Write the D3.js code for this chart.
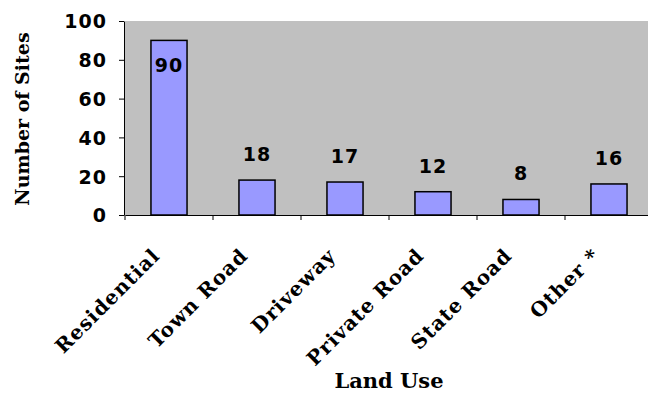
<!DOCTYPE html>
<html>
<head>
<meta charset="utf-8">
<script src="https://cdn.jsdelivr.net/npm/d3@7"></script>
<style>
  body { margin: 0; background: #fff; }
  .tick text { font-family: "DejaVu Sans", Verdana, sans-serif; font-weight: bold; font-size: 19px; letter-spacing: 1px; fill: #000; }
  .catLabel, .axisTitle { font-family: "DejaVu Serif", "Bookman Old Style", serif; font-weight: bold; fill: #000; }
  .valLabel { font-family: "DejaVu Sans", Verdana, sans-serif; font-weight: bold; font-size: 19px; letter-spacing: 1px; fill: #000; }
</style>
</head>
<body>
<div class="chart"></div>
<script>
// Land use of sites bar chart

var categories = ["Residential", "Town Road", "Driveway", "Private Road", "State Road", "Other *"];
var sites = [90, 18, 17, 12, 8, 16];
var yTicks = [0, 20, 40, 60, 80, 100];

var svgWidth = 648;
var svgHeight = 394;

var plot = { left: 125, top: 21, right: 653, bottom: 215 };

var svg = d3.select(".chart")
  .append("svg")
  .attr("width", svgWidth)
  .attr("height", svgHeight);

var data = categories.map(function(c, i) {
  return { cat: c, value: sites[i] };
});

var xScale = d3.scaleBand()
  .domain(categories)
  .range([plot.left, plot.right])
  .padding(0);

var yScale = d3.scaleLinear()
  .domain([0, 100])
  .range([plot.bottom, plot.top]);

// gray plot area
svg.append("rect")
  .attr("x", plot.left)
  .attr("y", plot.top)
  .attr("width", plot.right - plot.left)
  .attr("height", plot.bottom - plot.top)
  .attr("fill", "#c0c0c0");

// bars
var barW = xScale.bandwidth() * 0.41;
svg.selectAll("rect.bar")
  .data(data)
  .enter()
  .append("rect")
  .attr("class", "bar")
  .attr("x", d => xScale(d.cat) + (xScale.bandwidth() - barW) / 2)
  .attr("y", d => yScale(d.value))
  .attr("width", barW)
  .attr("height", d => yScale(0) - yScale(d.value))
  .attr("fill", "#9999ff")
  .attr("stroke", "#000")
  .attr("stroke-width", 1.5);

// value labels (inside when there's no room above)
svg.selectAll("text.valLabel")
  .data(data)
  .enter()
  .append("text")
  .attr("class", "valLabel")
  .attr("text-anchor", "middle")
  .attr("x", d => xScale(d.cat) + xScale.bandwidth() / 2)
  .attr("y", function(d) {
    var top = yScale(d.value);
    return (top - 19 < plot.top + 14) ? top + 32 : top - 19;
  })
  .text(d => d.value);

// y axis
var yAxis = d3.axisLeft(yScale)
  .tickValues(yTicks)
  .tickSize(5)
  .tickSizeOuter(0)
  .tickPadding(12);

var yG = svg.append("g")
  .attr("transform", `translate(${plot.left - 1}, 0)`)
  .call(yAxis);
yG.select(".domain").attr("stroke", "#000").attr("stroke-width", 1);
yG.selectAll(".tick line").attr("stroke", "#000");
yG.selectAll(".tick text").attr("dy", "0.36em");

// x axis, ticks between categories
var xAxis = d3.axisBottom(xScale)
  .tickSize(0)
  .tickSizeOuter(0)
  .tickFormat("");

var xG = svg.append("g")
  .attr("transform", `translate(0, ${plot.bottom})`)
  .call(xAxis);
xG.select(".domain").attr("stroke", "#000");

xG.selectAll("line.sep")
  .data(categories)
  .enter()
  .append("line")
  .attr("class", "sep")
  .attr("x1", d => xScale(d))
  .attr("x2", d => xScale(d))
  .attr("y1", 0)
  .attr("y2", 5)
  .attr("stroke", "#000");

// category labels rotated
svg.selectAll("text.catLabel")
  .data(categories)
  .enter()
  .append("text")
  .attr("class", "catLabel")
  .attr("font-size", "20px")
  .attr("letter-spacing", "1px")
  .attr("text-anchor", "end")
  .attr("transform", d => `translate(${xScale(d) + xScale.bandwidth() / 2 - 8}, ${plot.bottom + 42}) rotate(-45)`)
  .text(d => d);

// axis titles
svg.append("text")
  .attr("class", "axisTitle")
  .attr("font-size", "19px")
  .attr("text-anchor", "middle")
  .attr("transform", `translate(29, 119) rotate(-90)`)
  .text("Number of Sites");

svg.append("text")
  .attr("class", "axisTitle")
  .attr("font-size", "21px")
  .attr("text-anchor", "middle")
  .attr("x", 389)
  .attr("y", 388)
  .text("Land Use");
</script>
</body>
</html>
